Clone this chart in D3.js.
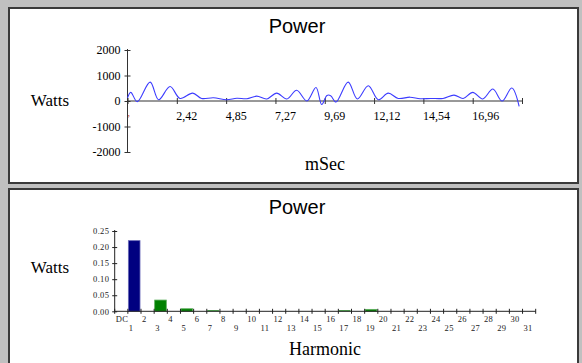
<!DOCTYPE html>
<html>
<head>
<meta charset="utf-8">
<script src="https://cdn.jsdelivr.net/npm/d3@7"></script>
<style>
  body { margin: 0; background: #c0c0c0; }
  svg { display: block; }
</style>
</head>
<body>
<svg id="chart" width="582" height="363"></svg>
<script>
// waveform samples (peaks / troughs)
const timeMs = [0, 0.16, 0.48, 1.11, 1.53, 2.09, 2.58, 3.20, 3.64, 4.22, 4.87, 5.37, 5.86,
  6.35, 6.84, 7.33, 7.83, 8.31, 8.81, 9.26, 9.54, 9.80, 9.98, 10.24, 10.84, 11.29, 11.83,
  12.32, 12.81, 13.30, 13.88, 14.37, 14.90, 15.50, 16.04, 16.49, 16.96, 17.45, 17.95,
  18.40, 18.88, 19.24];
const powerW = [120, 340, -25, 740, 50, 570, 100, 310, 100, 130, 50, 110, 90,
  190, 80, 310, 80, 420, 0, 530, -140, 220, 210, -40, 740, 80, 600,
  50, 310, 100, 150, 90, 100, 100, 230, 100, 340, 80, 470,
  0, 510, -210];
const timeTicks = [0, 2.4225, 4.845, 7.2675, 9.69, 12.1125, 14.535, 16.9575, 19.38];
const timeTickLabels = ['', '2,42', '4,85', '7,27', '9,69', '12,12', '14,54', '16,96', ''];
const wattTicks = [-2000, -1000, 0, 1000, 2000];

// harmonic spectrum
const harmonics = ['DC'].concat(d3.range(1, 32).map(String));
const harmonicWatts = [0, 0.22, 0, 0.035, 0, 0.008, 0, 0.003, 0, 0, 0, 0, 0, 0, 0, 0,
  0, 0.003, 0, 0.006, 0, 0, 0, 0, 0, 0, 0, 0, 0, 0, 0, 0];
const harmTicks = [0, 0.05, 0.10, 0.15, 0.20, 0.25];

const svg = d3.select('#chart');
const serif = '"Liberation Serif", "Times New Roman", serif';

function panel(y, h) {
  svg.append('rect').attr('x', 9).attr('y', y + 1).attr('width', 569).attr('height', h)
    .attr('fill', 'white').attr('stroke', '#3a3a3a').attr('stroke-width', 2);
}
panel(7, 175);
panel(188, 180);

function title(txt, x, y, size, font) {
  svg.append('text').attr('x', x).attr('y', y).attr('text-anchor', 'middle')
    .attr('font-family', font).attr('font-size', size).attr('fill', '#000').text(txt);
}

// ---------- top chart ----------
const x1 = d3.scaleLinear().domain([0, 19.38]).range([127.5, 522]);
const y1 = d3.scaleLinear().domain([-2000, 2000]).range([152, 50]);

title('Power', 297, 33, 20, '"Liberation Sans", Arial, sans-serif');
title('Watts', 50, 106, 17, serif);
title('mSec', 325, 170, 18, serif);

const yAx1 = svg.append('g').attr('transform', `translate(${x1(0)},0)`)
  .call(d3.axisLeft(y1).tickValues(wattTicks).tickSize(3).tickPadding(4).tickFormat(d => String(d)));
yAx1.selectAll('.tick line').attr('x2', 3).attr('x1', -3);
yAx1.select('.domain').attr('d', `M0,${y1(-2000) + 1}V${y1(2000) - 1}`);

const xAx1 = svg.append('g').attr('transform', `translate(0,${y1(0)})`)
  .call(d3.axisBottom(x1).tickValues(timeTicks).tickSize(3).tickPadding(7)
    .tickFormat((d, i) => timeTickLabels[i]));
xAx1.selectAll('.tick line').attr('y1', -3);
xAx1.selectAll('.tick text').attr('text-anchor', 'start').attr('dx', -1);
xAx1.select('.domain').attr('d', `M${x1(0)},0H${x1(19.38)}`);

[yAx1, xAx1].forEach(g => {
  g.attr('font-family', serif);
  g.selectAll('text').attr('font-family', serif).attr('font-size', 12).attr('fill', '#000');
  g.selectAll('line, path').attr('stroke', '#333');
});

svg.append('text').attr('x', x1(0)).attr('y', y1(0) + 15).attr('font-family', serif)
  .attr('font-size', 10).attr('fill', '#b04040').text(',');

const line = d3.line().x((d, i) => x1(timeMs[i])).y(d => y1(d)).curve(d3.curveCatmullRom.alpha(0.5));
svg.append('path').datum(powerW).attr('d', line).attr('fill', 'none')
  .attr('stroke', '#3c3cff').attr('stroke-width', 1.1);

// ---------- bottom chart ----------
const x2 = d3.scaleBand().domain(harmonics).range([114.7, 535.7]);
const y2 = d3.scaleLinear().domain([0, 0.25]).range([311.3, 231]);

title('Power', 297, 214, 20, '"Liberation Sans", Arial, sans-serif');
title('Watts', 50, 273, 17, serif);
title('Harmonic', 325, 355, 18, serif);

svg.append('g').selectAll('rect').data(harmonicWatts).join('rect')
  .attr('x', (d, i) => x2(harmonics[i]) + 0.5)
  .attr('width', x2.bandwidth() - 1.5)
  .attr('y', d => y2(d))
  .attr('height', d => y2(0) - y2(d))
  .attr('fill', (d, i) => i === 1 ? '#000080' : '#008000')
  .attr('stroke', (d, i) => i === 1 ? '#6a6ab8' : '#5cae5c')
  .attr('stroke-width', d => d > 0.005 ? 0.8 : 0);

const yAx2 = svg.append('g').attr('transform', `translate(${x2.range()[0]},0)`)
  .call(d3.axisLeft(y2).tickValues(harmTicks).tickSize(2.5).tickPadding(3).tickFormat(d3.format('.2f')));
yAx2.selectAll('.tick line').attr('x1', -2.5).attr('x2', 2.5);
yAx2.select('.domain').attr('d', `M0,${y2(0)}V${y2(0.25) - 1}`);

const xAx2 = svg.append('g').attr('transform', `translate(0,${y2(0)})`);
xAx2.append('path').attr('d', `M${x2.range()[0]},0H${x2.range()[1]}`).attr('stroke', '#222');
xAx2.selectAll('line').data(harmonics.concat(['end'])).join('line')
  .attr('x1', (d, i) => x2.range()[0] + i * x2.step())
  .attr('x2', (d, i) => x2.range()[0] + i * x2.step())
  .attr('y1', -2.5).attr('y2', 2.5).attr('stroke', '#222');
xAx2.selectAll('text').data(harmonics).join('text')
  .attr('x', d => x2(d) + 1)
  .attr('y', (d, i) => i % 2 === 0 ? 11 : 19.5)
  .attr('font-family', serif).attr('font-size', 8.5).attr('letter-spacing', 0.3)
  .attr('fill', '#222').text(d => d);

yAx2.attr('font-family', serif);
yAx2.selectAll('text').attr('font-family', serif).attr('font-size', 8.5)
  .attr('letter-spacing', 0.3).attr('fill', '#222');
yAx2.selectAll('line, path').attr('stroke', '#222');
</script>
</body>
</html>
